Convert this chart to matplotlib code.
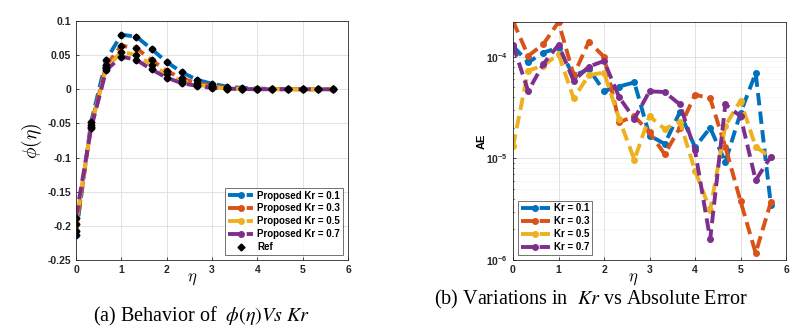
import numpy as np
import matplotlib
matplotlib.use("Agg")
import matplotlib.pyplot as plt
from matplotlib.ticker import LogLocator, NullFormatter

eta = [0, 1/3, 2/3, 1, 4/3, 5/3, 2, 7/3, 8/3, 3, 10/3, 11/3, 4, 13/3, 14/3, 5, 16/3, 17/3]

phi_kr01 = [-0.213, -0.048, 0.043, 0.080, 0.077, 0.059, 0.040, 0.025, 0.014, 0.008, 0.004, 0.002, 0.001, 0.0005, 0.0002, 0.0001, 0.0, 0.0]
phi_kr03 = [-0.207, -0.052, 0.035, 0.064, 0.060, 0.043, 0.027, 0.016, 0.009, 0.005, 0.002, 0.001, 0.0005, 0.0002, 0.0001, 0.0, 0.0, 0.0]
phi_kr05 = [-0.197, -0.055, 0.031, 0.055, 0.050, 0.036, 0.022, 0.012, 0.007, 0.003, 0.001, 0.0005, 0.0002, 0.0001, 0.0, 0.0, 0.0, 0.0]
phi_kr07 = [-0.188, -0.057, 0.028, 0.048, 0.043, 0.029, 0.017, 0.009, 0.005, 0.002, 0.001, 0.0004, 0.0001, 0.0, 0.0, 0.0, 0.0, 0.0]

ae_kr01 = [1.28e-4, 8.8e-5, 1.1e-4, 1.23e-4, 6.5e-5, 7.6e-5, 4.6e-5, 5.1e-5, 5.6e-5, 1.68e-5, 1.39e-5, 2.85e-5, 1.29e-5, 2.0e-5, 9.2e-6, 2.8e-5, 6.9e-5, 3.5e-6]
ae_kr03 = [2.25e-4, 1.02e-4, 1.33e-4, 2.2e-4, 6.6e-5, 1.41e-4, 1.0e-4, 2.27e-5, 2.6e-5, 1.8e-5, 1.1e-5, 2.0e-5, 4.24e-5, 3.9e-5, 1.3e-5, 3.8e-6, 1.17e-6, 3.7e-6]
ae_kr05 = [1.31e-5, 7.3e-5, 8.2e-5, 1.06e-4, 3.9e-5, 6.6e-5, 7.0e-5, 2.45e-5, 9.7e-6, 2.6e-5, 1.95e-5, 2.3e-5, 7.6e-6, 3.1e-6, 2.1e-5, 3.7e-5, 1.3e-5, 1.03e-5]
ae_kr07 = [1.31e-4, 4.6e-5, 8.5e-5, 1.31e-4, 5.8e-5, 8.0e-5, 9.1e-5, 4.0e-5, 2.45e-5, 4.57e-5, 4.5e-5, 3.4e-5, 1.2e-5, 1.6e-6, 3.4e-5, 2.6e-5, 6.1e-6, 1.04e-5]

kr_labels = ["0.1", "0.3", "0.5", "0.7"]
colors = ["#0072BD", "#D95319", "#EDB120", "#7E2F8E"]
ae_ticks = [1e-6, 1e-5, 1e-4]
ae_ticklabels = [r"$\mathbf{10^{-6}}$", r"$\mathbf{10^{-5}}$", r"$\mathbf{10^{-4}}$"]

phis = [phi_kr01, phi_kr03, phi_kr05, phi_kr07]
aes = [ae_kr01, ae_kr03, ae_kr05, ae_kr07]

plt.rcParams["font.family"] = ["Liberation Sans", "DejaVu Sans"]
plt.rcParams["mathtext.fontset"] = "custom"
plt.rcParams["mathtext.bf"] = "Liberation Sans:bold"
plt.rcParams["mathtext.rm"] = "Liberation Sans"

fig = plt.figure(figsize=(8.07, 3.27), dpi=100)
W, H = 807, 327
axL = fig.add_axes([76/W, 1 - 260/H, (348-76)/W, (260-21)/H])
axR = fig.add_axes([513/W, 1 - 260/H, (786-513)/W, (260-22)/H])

for phi, lab, c in zip(phis, kr_labels, colors):
    axL.plot(eta, phi, linestyle="--", color=c, lw=2.8, marker="o", ms=4,
             dashes=(3.2, 1.6), label=f"Proposed Kr = {lab}")
for i, phi in enumerate(phis):
    axL.plot(eta, phi, linestyle="none", marker="D", color="black", ms=3.5,
             label="Ref" if i == 0 else None)

axL.set_xlim(0, 6)
axL.set_ylim(-0.25, 0.1)
axL.set_xticks(range(0, 7))
axL.set_yticks([-0.25, -0.2, -0.15, -0.1, -0.05, 0, 0.05, 0.1])
axL.set_yticklabels(["-0.25", "-0.2", "-0.15", "-0.1", "-0.05", "0", "0.05", "0.1"])
axL.grid(True, color="#dddddd", lw=0.6)
axL.set_axisbelow(True)
axL.set_xlabel(r"$\eta$", fontsize=12, math_fontfamily="cm")
axL.xaxis.set_label_coords(0.426, -0.05)
axL.set_ylabel(r"$\phi(\eta)$", fontsize=14, math_fontfamily="cm")
axL.yaxis.set_label_coords(-0.118, 0.5)
leg = axL.legend(loc="lower right", prop=dict(weight="bold", size=7),
                 frameon=True, fancybox=False, edgecolor="#333333",
                 handlelength=2.6, borderpad=0.3, labelspacing=0.3, handletextpad=0.4)
leg.get_frame().set_linewidth(0.6)

for ae, lab, c in zip(aes, kr_labels, colors):
    axR.plot(eta, ae, linestyle="--", color=c, lw=2.8, marker="o", ms=4,
             dashes=(3.2, 1.6), label=f"Kr = {lab}")
axR.set_yscale("log")
axR.set_xlim(0, 6)
axR.set_ylim(1e-6, 2.2e-4)
axR.set_xticks(range(0, 7))
axR.set_yticks(ae_ticks)
axR.set_yticklabels(ae_ticklabels)
axR.yaxis.set_minor_locator(LogLocator(base=10, subs=np.arange(2, 10), numticks=20))
axR.yaxis.set_minor_formatter(NullFormatter())
axR.grid(True, which="major", color="#dddddd", lw=0.6)
axR.grid(True, which="minor", color="#e4e4e4", lw=0.5, linestyle=":")
axR.set_axisbelow(True)
axR.set_xlabel(r"$\eta$", fontsize=12, math_fontfamily="cm")
axR.xaxis.set_label_coords(0.44, -0.05)
axR.set_ylabel("AE", fontsize=8, fontweight="bold")
axR.yaxis.set_label_coords(-0.095, 0.5)
legR = axR.legend(loc="lower left", prop=dict(weight="bold", size=7),
                  frameon=True, fancybox=False, edgecolor="#333333",
                  handlelength=3.0, borderpad=0.3, labelspacing=0.3, handletextpad=0.4)
legR.get_frame().set_linewidth(0.6)

for ax in (axL, axR):
    for lbl in ax.get_xticklabels() + ax.get_yticklabels():
        lbl.set_fontweight("bold")
    ax.tick_params(labelsize=7.5, length=2, width=0.6, direction="in", colors="#262626")
    ax.tick_params(which="minor", length=1, direction="in")
    for s in ax.spines.values():
        s.set_linewidth(0.6)
        s.set_color("#262626")

fig.text(202/W, 1 - 316/H, r"(a) Behavior of  $\phi\left(\eta\right)Vs\ Kr$", ha="center", va="center",
         fontsize=14.5, family="Liberation Serif", math_fontfamily="stix")
fig.text(591/W, 1 - 299/H, r"(b) Variations in  $Kr$ vs Absolute Error", ha="center", va="center",
         fontsize=14.5, family="Liberation Serif", math_fontfamily="stix")

fig.savefig("out.png", dpi=100)
